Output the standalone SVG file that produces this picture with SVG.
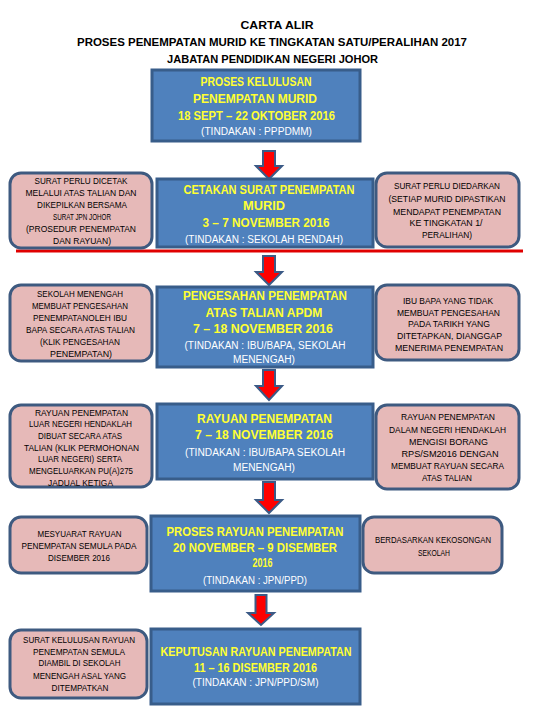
<svg xmlns="http://www.w3.org/2000/svg" width="540" height="720" viewBox="0 0 540 720">
<style>
.bg{fill:#ffffff}
.blue{fill:#4f81bd;stroke:#385d8a;stroke-width:3}
.pink{fill:#e6b9b8;stroke:#3e5a80;stroke-width:3}
.arrow{fill:#ff0000;stroke:#3b5a86;stroke-width:2;stroke-linejoin:miter}
.t{font-family:"Liberation Sans",Arial,sans-serif;font-weight:bold;font-size:11px;fill:#000;text-anchor:middle}
.y{font-family:"Liberation Sans",Arial,sans-serif;font-weight:bold;font-size:12px;fill:#ffff33;text-anchor:middle}
.w{font-family:"Liberation Sans",Arial,sans-serif;font-size:10px;fill:#ffffff;text-anchor:middle}
.p{font-family:"Liberation Sans",Arial,sans-serif;font-size:8.3px;fill:#000;text-anchor:middle}
</style>
<rect class="bg" x="0" y="0" width="540" height="720"/>
<g id="title">
<text class="t" x="277" y="29" textLength="73" lengthAdjust="spacingAndGlyphs">CARTA ALIR</text>
<text class="t" x="272" y="46" textLength="390" lengthAdjust="spacingAndGlyphs">PROSES PENEMPATAN MURID KE TINGKATAN SATU/PERALIHAN 2017</text>
<text class="t" x="272.5" y="62.5" textLength="211" lengthAdjust="spacingAndGlyphs">JABATAN PENDIDIKAN NEGERI JOHOR</text>
</g>
<g id="connectors">
<path class="arrow" d="M263,151 H275 V166 H282 L269,179 L256,166 H263 Z"/>
<path class="arrow" d="M263,256 H275 V272 H282 L269,285 L256,272 H263 Z"/>
<path class="arrow" d="M263,370 H275 V386 H282 L269,400 L256,386 H263 Z"/>
<path class="arrow" d="M263,482 H275 V500 H282 L269,513 L256,500 H263 Z"/>
<path class="arrow" d="M255.5,595 H266.5 V613 H274 L261,625 L248,613 H255.5 Z"/>
</g>
<g id="divider">
<line x1="16" y1="251" x2="523" y2="251" stroke="#e00000" stroke-width="3"/>
</g>
<g id="n1">
<rect class="blue" x="152" y="70" width="208" height="71"/>
<text class="y" x="256" y="86.3" textLength="111" lengthAdjust="spacingAndGlyphs">PROSES KELULUSAN</text>
<text class="y" x="255" y="103.3" textLength="124" lengthAdjust="spacingAndGlyphs">PENEMPATAN MURID</text>
<text class="y" x="256.5" y="120.3" textLength="157" lengthAdjust="spacingAndGlyphs">18 SEPT – 22 OKTOBER 2016</text>
<text class="w" x="256.5" y="134.6" textLength="111" lengthAdjust="spacingAndGlyphs">(TINDAKAN : PPPDMM)</text>
</g>
<g id="n2">
<rect class="blue" x="157" y="179" width="216" height="68"/>
<text class="y" x="269" y="194.3" textLength="171" lengthAdjust="spacingAndGlyphs">CETAKAN SURAT PENEMPATAN</text>
<text class="y" x="264" y="210.3" textLength="42" lengthAdjust="spacingAndGlyphs">MURID</text>
<text class="y" x="266" y="227.3" textLength="127" lengthAdjust="spacingAndGlyphs">3 – 7 NOVEMBER 2016</text>
<text class="w" x="264" y="242.6" textLength="158" lengthAdjust="spacingAndGlyphs">(TINDAKAN : SEKOLAH RENDAH)</text>
</g>
<g id="n2l">
<rect class="pink" x="10" y="173" width="142" height="75" rx="11"/>
<text class="p" x="81" y="184" textLength="93" lengthAdjust="spacingAndGlyphs">SURAT PERLU DICETAK</text>
<text class="p" x="81" y="196" textLength="111" lengthAdjust="spacingAndGlyphs">MELALUI ATAS TALIAN DAN</text>
<text class="p" x="82" y="208" textLength="90" lengthAdjust="spacingAndGlyphs">DIKEPILKAN BERSAMA</text>
<text class="p" x="82" y="220" textLength="58" lengthAdjust="spacingAndGlyphs">SURAT JPN JOHOR</text>
<text class="p" x="81" y="232" textLength="110" lengthAdjust="spacingAndGlyphs">(PROSEDUR PENEMPATAN</text>
<text class="p" x="82" y="244" textLength="58" lengthAdjust="spacingAndGlyphs">DAN RAYUAN)</text>
</g>
<g id="n2r">
<rect class="pink" x="376" y="173" width="143" height="74" rx="11"/>
<text class="p" x="447" y="189" textLength="106" lengthAdjust="spacingAndGlyphs">SURAT PERLU DIEDARKAN</text>
<text class="p" x="447" y="202" textLength="117" lengthAdjust="spacingAndGlyphs">(SETIAP MURID  DIPASTIKAN</text>
<text class="p" x="447" y="215" textLength="108" lengthAdjust="spacingAndGlyphs">MENDAPAT PENEMPATAN</text>
<text class="p" x="446" y="226" textLength="73" lengthAdjust="spacingAndGlyphs">KE TINGKATAN 1/</text>
<text class="p" x="447" y="238" textLength="50" lengthAdjust="spacingAndGlyphs">PERALIHAN)</text>
</g>
<g id="n3">
<rect class="blue" x="157" y="287" width="216" height="80"/>
<text class="y" x="265" y="300.3" textLength="164" lengthAdjust="spacingAndGlyphs">PENGESAHAN PENEMPATAN</text>
<text class="y" x="264" y="317.3" textLength="117" lengthAdjust="spacingAndGlyphs">ATAS TALIAN APDM</text>
<text class="y" x="263" y="333.3" textLength="140" lengthAdjust="spacingAndGlyphs">7 – 18 NOVEMBER 2016</text>
<text class="w" x="265" y="348.6" textLength="161" lengthAdjust="spacingAndGlyphs">(TINDAKAN : IBU/BAPA, SEKOLAH</text>
<text class="w" x="264" y="362.6" textLength="62" lengthAdjust="spacingAndGlyphs">MENENGAH)</text>
</g>
<g id="n3l">
<rect class="pink" x="10" y="285" width="142" height="76" rx="11"/>
<text class="p" x="80" y="297" textLength="86" lengthAdjust="spacingAndGlyphs">SEKOLAH MENENGAH</text>
<text class="p" x="80" y="309" textLength="96" lengthAdjust="spacingAndGlyphs">MEMBUAT PENGESAHAN</text>
<text class="p" x="80" y="321" textLength="94" lengthAdjust="spacingAndGlyphs">PENEMPATANOLEH IBU</text>
<text class="p" x="80.5" y="333" textLength="109" lengthAdjust="spacingAndGlyphs">BAPA SECARA ATAS TALIAN</text>
<text class="p" x="80" y="345" textLength="80" lengthAdjust="spacingAndGlyphs">(KLIK PENGESAHAN</text>
<text class="p" x="81" y="357" textLength="62" lengthAdjust="spacingAndGlyphs">PENEMPATAN)</text>
</g>
<g id="n3r">
<rect class="pink" x="376" y="285" width="143" height="75" rx="11"/>
<text class="p" x="448" y="304" textLength="90" lengthAdjust="spacingAndGlyphs">IBU BAPA YANG TIDAK</text>
<text class="p" x="448.5" y="316" textLength="103" lengthAdjust="spacingAndGlyphs">MEMBUAT PENGESAHAN</text>
<text class="p" x="449" y="327" textLength="82" lengthAdjust="spacingAndGlyphs">PADA TARIKH YANG</text>
<text class="p" x="449.5" y="339" textLength="105" lengthAdjust="spacingAndGlyphs">DITETAPKAN, DIANGGAP</text>
<text class="p" x="449" y="351" textLength="108" lengthAdjust="spacingAndGlyphs">MENERIMA PENEMPATAN</text>
</g>
<g id="n4">
<rect class="blue" x="157" y="404" width="216" height="75"/>
<text class="y" x="264.5" y="423.3" textLength="135" lengthAdjust="spacingAndGlyphs">RAYUAN PENEMPATAN</text>
<text class="y" x="264" y="439.3" textLength="138" lengthAdjust="spacingAndGlyphs">7 – 18 NOVEMBER 2016</text>
<text class="w" x="265" y="455.6" textLength="160" lengthAdjust="spacingAndGlyphs">(TINDAKAN : IBU/BAPA SEKOLAH</text>
<text class="w" x="264" y="470.6" textLength="62" lengthAdjust="spacingAndGlyphs">MENENGAH)</text>
</g>
<g id="n4l">
<rect class="pink" x="10" y="405" width="142" height="82" rx="11"/>
<text class="p" x="81.5" y="415.5" textLength="93" lengthAdjust="spacingAndGlyphs">RAYUAN PENEMPATAN</text>
<text class="p" x="80.5" y="427" textLength="103" lengthAdjust="spacingAndGlyphs">LUAR NEGERI HENDAKLAH</text>
<text class="p" x="80" y="439" textLength="84" lengthAdjust="spacingAndGlyphs">DIBUAT SECARA ATAS</text>
<text class="p" x="81.5" y="450.5" textLength="115" lengthAdjust="spacingAndGlyphs">TALIAN (KLIK PERMOHONAN</text>
<text class="p" x="80" y="462" textLength="84" lengthAdjust="spacingAndGlyphs">LUAR NEGERI) SERTA</text>
<text class="p" x="81" y="474" textLength="104" lengthAdjust="spacingAndGlyphs">MENGELUARKAN PU(A)275</text>
<text class="p" x="80.5" y="485.5" textLength="65" lengthAdjust="spacingAndGlyphs">JADUAL KETIGA</text>
</g>
<g id="n4r">
<rect class="pink" x="376" y="405" width="143" height="84" rx="11"/>
<text class="p" x="448" y="420" textLength="94" lengthAdjust="spacingAndGlyphs">RAYUAN PENEMPATAN</text>
<text class="p" x="447.5" y="433" textLength="117" lengthAdjust="spacingAndGlyphs">DALAM NEGERI HENDAKLAH</text>
<text class="p" x="448.5" y="445" textLength="79" lengthAdjust="spacingAndGlyphs">MENGISI BORANG</text>
<text class="p" x="450" y="457" textLength="97" lengthAdjust="spacingAndGlyphs">RPS/SM2016 DENGAN</text>
<text class="p" x="447.5" y="469" textLength="113" lengthAdjust="spacingAndGlyphs">MEMBUAT RAYUAN SECARA</text>
<text class="p" x="447" y="481" textLength="50" lengthAdjust="spacingAndGlyphs">ATAS TALIAN</text>
</g>
<g id="n5">
<rect class="blue" x="151" y="516" width="209" height="75"/>
<text class="y" x="255" y="536.3" textLength="177" lengthAdjust="spacingAndGlyphs">PROSES RAYUAN PENEMPATAN</text>
<text class="y" x="255" y="552.3" textLength="164" lengthAdjust="spacingAndGlyphs">20 NOVEMBER – 9 DISEMBER</text>
<text class="y" x="262.5" y="567.3" textLength="20" lengthAdjust="spacingAndGlyphs">2016</text>
<text class="w" x="255" y="583.6" textLength="104" lengthAdjust="spacingAndGlyphs">(TINDAKAN : JPN/PPD)</text>
</g>
<g id="n5l">
<rect class="pink" x="10" y="517" width="137" height="56" rx="11"/>
<text class="p" x="79.5" y="537" textLength="84" lengthAdjust="spacingAndGlyphs">MESYUARAT RAYUAN</text>
<text class="p" x="79" y="549" textLength="115" lengthAdjust="spacingAndGlyphs">PENEMPATAN SEMULA PADA</text>
<text class="p" x="79" y="561" textLength="62" lengthAdjust="spacingAndGlyphs">DISEMBER 2016</text>
</g>
<g id="n5r">
<rect class="pink" x="363" y="517" width="139" height="56" rx="11"/>
<text class="p" x="433" y="543" textLength="116" lengthAdjust="spacingAndGlyphs">BERDASARKAN KEKOSONGAN</text>
<text class="p" x="434" y="556" textLength="32" lengthAdjust="spacingAndGlyphs">SEKOLAH</text>
</g>
<g id="n6">
<rect class="blue" x="151" y="629" width="209" height="75"/>
<text class="y" x="256" y="656.3" textLength="191" lengthAdjust="spacingAndGlyphs">KEPUTUSAN RAYUAN PENEMPATAN</text>
<text class="y" x="255.5" y="672.3" textLength="123" lengthAdjust="spacingAndGlyphs">11 – 16 DISEMBER 2016</text>
<text class="w" x="255.5" y="685.6" textLength="126" lengthAdjust="spacingAndGlyphs">(TINDAKAN : JPN/PPD/SM)</text>
</g>
<g id="n6l">
<rect class="pink" x="10" y="630" width="137" height="68" rx="11"/>
<text class="p" x="79" y="643" textLength="112" lengthAdjust="spacingAndGlyphs">SURAT KELULUSAN RAYUAN</text>
<text class="p" x="79" y="655" textLength="92" lengthAdjust="spacingAndGlyphs">PENEMPATAN SEMULA</text>
<text class="p" x="79.5" y="666" textLength="82" lengthAdjust="spacingAndGlyphs">DIAMBIL DI SEKOLAH</text>
<text class="p" x="79.5" y="679" textLength="93" lengthAdjust="spacingAndGlyphs">MENENGAH ASAL YANG</text>
<text class="p" x="80" y="691" textLength="57" lengthAdjust="spacingAndGlyphs">DITEMPATKAN</text>
</g>
</svg>
